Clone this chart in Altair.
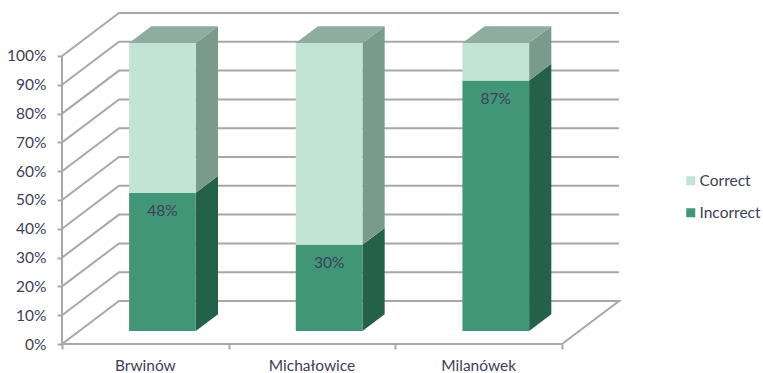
import altair as alt
import pandas as pd

categories = ["Brwinów", "Michałowice", "Milanówek"]
incorrect = [48, 30, 87]
levels = [0, 10, 20, 30, 40, 50, 60, 70, 80, 90, 100]

FONT = "Lato"
FONT_SIZE = 15.5
TEXT = "#40405a"
GREY = "#a8a8a8"
DARK, DARK_SIDE = "#419678", "#25604a"
LIGHT, LIGHT_SIDE, LIGHT_TOP = "#c3e3d6", "#7b9a8e", "#8eaca0"

# Oblique projection: one unit of depth shifts right and up by these amounts
DX, DY = 0.342, 14.93
BAR_L, BAR_R = 0.3, 0.7
D0, D1 = 0.3, 0.69

x_scale = alt.Scale(domain=[0, 3 + DX], range=[0, 557], nice=False, zero=False)
y_scale = alt.Scale(domain=[0, 100 + DY], range=[331, 0], nice=False, zero=False)

x_axis = alt.Axis(values=[0, 1, 2, 3], labels=False, title=None, grid=False, domain=False,
                  ticks=True, tickSize=5, tickColor=GREY, tickWidth=2)
y_axis = alt.Axis(values=levels, labelExpr="datum.value + '%'", title=None, grid=False,
                  domain=False, ticks=True, tickSize=5, tickColor=GREY, tickWidth=2,
                  labelPadding=11, labelFont=FONT, labelFontSize=FONT_SIZE, labelColor=TEXT)

X = alt.X("x:Q", scale=x_scale, axis=x_axis)
Y = alt.Y("y:Q", scale=y_scale, axis=y_axis)

# Walls: each level runs from the front edge, back along the side wall, across the back wall
grid_rows = []
for v in levels:
    path = [(0, v), (DX, v + DY), (3 + DX, v + DY)]
    if v == 0:
        path = [(0, 100), (0, 0), (DX, DY), (3 + DX, DY), (3, 0), (0, 0)]
    for i, (px, py) in enumerate(path):
        grid_rows.append({"level": v, "i": i, "x": px, "y": py})

grid = alt.Chart(pd.DataFrame(grid_rows)).mark_line(
    color=GREY, strokeWidth=2, interpolate="linear"
).encode(x=X, y=Y, detail="level:N", order="i:Q")

front_rows, side_rows, top_rows, label_rows = [], [], [], []
for c, (name, v) in enumerate(zip(categories, incorrect)):
    left, right = c + BAR_L + D0 * DX, c + BAR_R + D0 * DX
    segments = [("Incorrect", 0, v, DARK_SIDE), ("Correct", v, 100, LIGHT_SIDE)]
    for series, lo, hi, side in segments:
        front_rows.append({"series": series, "x": left, "x2": right,
                           "y": lo + D0 * DY, "y2": hi + D0 * DY})
        for d in (D0, D1):
            side_rows.append({"seg": f"{name}-{series}", "side": side,
                              "x": c + BAR_R + d * DX,
                              "y": lo + d * DY, "y2": hi + d * DY})
    for d in (D0, D1):
        top_rows.append({"bar": name, "x": c + BAR_L + d * DX, "x2": c + BAR_R + d * DX,
                         "y": 100 + d * DY})
    label_rows.append({"x": (left + right) / 2, "y": v + D0 * DY, "text": f"{v}%"})

sides = alt.Chart(pd.DataFrame(side_rows)).mark_area(orient="vertical", opacity=1).encode(
    x=X, y=Y, y2="y2:Q",
    color=alt.Color("side:N", scale=None, legend=None),
    detail="seg:N",
)

tops = alt.Chart(pd.DataFrame(top_rows)).mark_area(orient="horizontal", color=LIGHT_TOP).encode(
    x=X, x2="x2:Q", y=Y, detail="bar:N",
)

fronts = alt.Chart(pd.DataFrame(front_rows)).mark_rect().encode(
    x=X, x2="x2:Q", y=Y, y2="y2:Q",
    color=alt.Color("series:N",
                    scale=alt.Scale(domain=["Correct", "Incorrect"], range=[LIGHT, DARK]),
                    legend=alt.Legend(orient="none", legendX=621, legendY=160, title=None,
                                      symbolType="square", symbolSize=81, symbolStrokeWidth=0,
                                      rowPadding=15, labelFont=FONT, labelFontSize=FONT_SIZE,
                                      labelColor=TEXT, labelOffset=1, labelLimit=120)),
)

values = alt.Chart(pd.DataFrame(label_rows)).mark_text(
    font=FONT, fontSize=FONT_SIZE, color=TEXT, dy=18, baseline="middle", align="center"
).encode(x=X, y=Y, text="text:N")

names = alt.Chart(pd.DataFrame({"x": [i + 0.5 for i in range(3)], "y": [0, 0, 0],
                                "name": categories})).mark_text(
    font=FONT, fontSize=FONT_SIZE, color=TEXT, dy=27, baseline="alphabetic", align="center"
).encode(x=X, y=Y, text="name:N")

chart = alt.layer(grid, sides, tops, fronts, values, names).resolve_scale(
    color="independent"
).properties(
    width=557, height=331,
    padding={"left": 62, "top": 13, "right": 144, "bottom": 29},
    autosize=alt.AutoSizeParams(type="none"),
    background="white",
).configure_view(stroke=None)

chart.save("out.html", embed_options={"renderer": "svg", "actions": False})
